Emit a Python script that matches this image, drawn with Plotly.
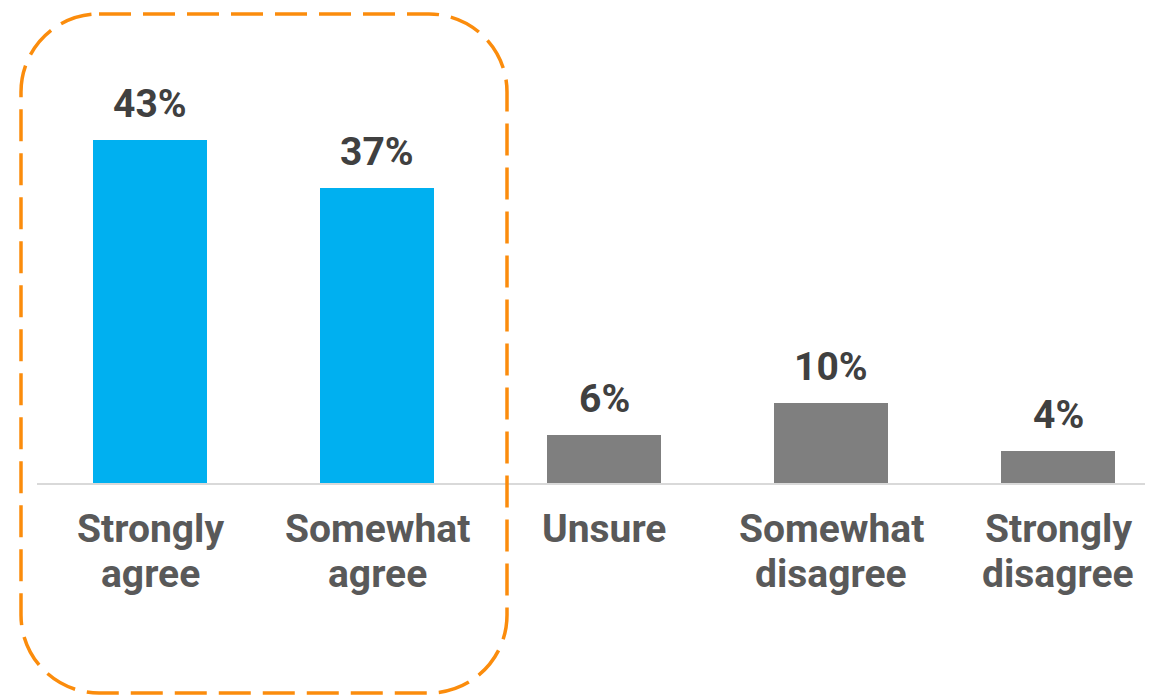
import plotly.graph_objects as go

categories = ["Strongly<br>agree", "Somewhat<br>agree", "Unsure", "Somewhat<br>disagree", "Strongly<br>disagree"]
values = [43, 37, 6, 10, 4]
value_labels = ["43%", "37%", "6%", "10%", "4%"]
bar_colors = ["#00B0F0", "#00B0F0", "#7F7F7F", "#7F7F7F", "#7F7F7F"]

FONT = "Roboto"
# page has an 8px body margin; figure sized to fit the window without scrollbars
OFF = 8
W, H = 1153 - OFF, 695 - OFF
ML, MR, MT, MB = 37 - OFF, 0, 0, 212
PW, PH = W - ML - MR, H - MT - MB
PX_PER_PCT = 7.98

fig = go.Figure()
fig.add_trace(go.Bar(
    x=list(range(len(categories))), y=values,
    marker=dict(color=bar_colors, line=dict(width=0)),
    width=0.5, hoverinfo="skip",
))

for i, (v, t) in enumerate(zip(values, value_labels)):
    fig.add_annotation(x=i, y=v, text=f"<b>{t}</b>", showarrow=False,
                       yanchor="middle", yshift=36,
                       font=dict(family=FONT, size=39, color="#404040"))

# category labels, one text element per line for tight line spacing
for i, c in enumerate(categories):
    for j, line in enumerate(c.split("<br>")):
        fig.add_annotation(x=i, xref="x", y=0, yref="paper", text=f"<b>{line}</b>",
                           showarrow=False, yanchor="middle", yshift=-46 - 45 * j,
                           font=dict(family=FONT, size=39, color="#595959"))

# dashed rounded rectangle (page pixel geometry -> paper coords)
def P(px, py):
    a = (px - OFF - ML) / PW
    b = (MT + PH - (py - OFF)) / PH
    return f"{a:.5f},{b:.5f}"

x0, x1, y0, y1, r = 21, 507, 14, 693, 78
k = 0.5523 * r
path = (f"M {P(x0 + r, y0)} L {P(x1 - r, y0)} "
        f"C {P(x1 - r + k, y0)} {P(x1, y0 + r - k)} {P(x1, y0 + r)} "
        f"L {P(x1, y1 - r)} "
        f"C {P(x1, y1 - r + k)} {P(x1 - r + k, y1)} {P(x1 - r, y1)} "
        f"L {P(x0 + r, y1)} "
        f"C {P(x0 + r - k, y1)} {P(x0, y1 - r + k)} {P(x0, y1 - r)} "
        f"L {P(x0, y0 + r)} "
        f"C {P(x0, y0 + r - k)} {P(x0 + r - k, y0)} {P(x0 + r, y0)} Z")
fig.add_shape(type="path", path=path, xref="paper", yref="paper",
              line=dict(color="#FB8C0C", width=3.5, dash="32px,12px"),
              fillcolor="rgba(0,0,0,0)", layer="above")

fig.update_layout(
    width=W, height=H,
    margin=dict(l=ML, r=MR, t=MT, b=MB, pad=0),
    paper_bgcolor="white", plot_bgcolor="white",
    showlegend=False, bargap=0,
    xaxis=dict(
        range=[-0.498, 4.418], tickmode="array",
        tickvals=list(range(len(categories))), showticklabels=False,
        showline=True, linecolor="#D9D9D9", linewidth=2,
        showgrid=False, zeroline=False, ticks="", fixedrange=True,
    ),
    yaxis=dict(range=[0, PH / PX_PER_PCT], visible=False, fixedrange=True),
)

fig.write_html("out.html", config={"displayModeBar": False})
